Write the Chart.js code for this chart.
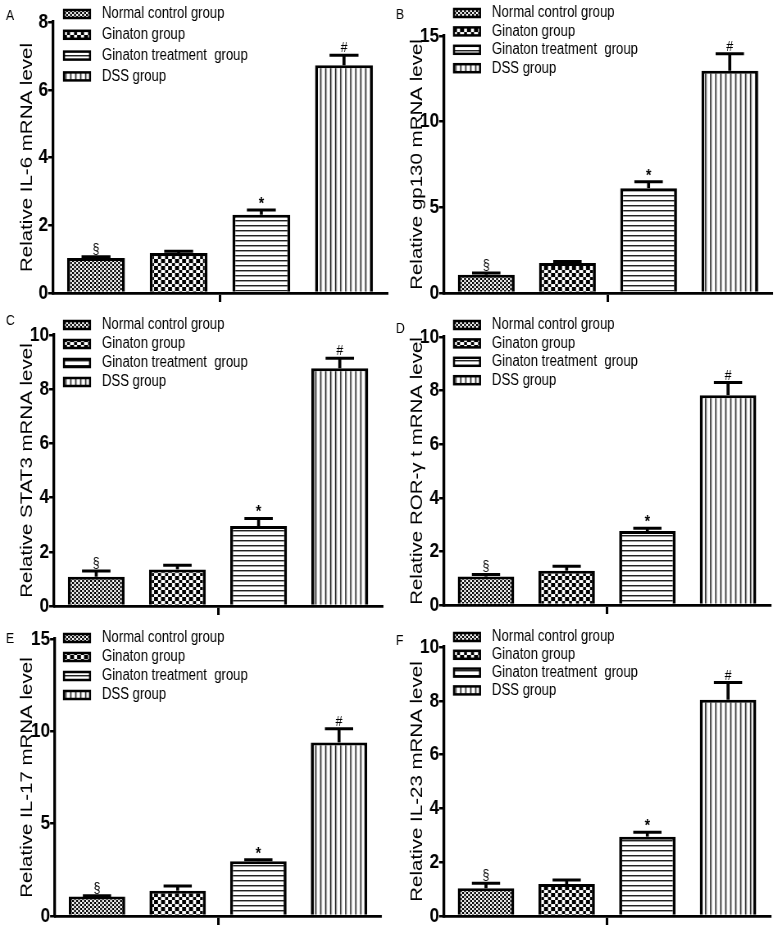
<!DOCTYPE html>
<html>
<head>
<meta charset="utf-8">
<script src="https://cdn.jsdelivr.net/npm/chart.js@4.4.1/dist/chart.umd.min.js"></script>
<style>
  html, body { margin: 0; background: #fff; overflow: hidden; }
  #wrap { position: relative; width: 778px; height: 933px; background: #fff; overflow: hidden; }
  #wrap canvas { position: absolute; transform-origin: 0 0; }
</style>
</head>
<body>
<div id="wrap">
  <canvas id="pA"></canvas>
  <canvas id="pB"></canvas>
  <canvas id="pC"></canvas>
  <canvas id="pD"></canvas>
  <canvas id="pE"></canvas>
  <canvas id="pF"></canvas>
</div>
<script>
const groups = ['Normal control group', 'Ginaton group', 'Ginaton treatment  group', 'DSS group'];
const marks = ['§', '', '*', '#'];

// mean values and upper error
const il6 = [1.03, 1.18, 2.31, 6.72];
const il6Err = [0.04, 0.05, 0.14, 0.30];
const gp130 = [1.07, 1.75, 6.12, 12.97];
const gp130Err = [0.10, 0.09, 0.38, 1.0];
const stat3 = [1.08, 1.35, 2.95, 8.77];
const stat3Err = [0.21, 0.15, 0.28, 0.37];
const rorgt = [1.06, 1.28, 2.76, 7.83];
const rorgtErr = [0.08, 0.17, 0.10, 0.47];
const il17 = [1.05, 1.37, 2.97, 9.40];
const il17Err = [0.04, 0.26, 0.07, 0.74];
const il23 = [1.03, 1.19, 2.95, 8.04];
const il23Err = [0.19, 0.15, 0.16, 0.64];

const FONT = "'Liberation Sans', Arial, sans-serif";
const SQUEEZE = 0.82; // the figure is narrower than it is tall

const panels = [
  { id: 'pA', letter: 'A', title: 'Relative IL-6 mRNA level', values: il6, errors: il6Err, max: 8, step: 2,
    x: 0, y: 0, w: 390, h: 310, left: 53, top: 22, right: 387, bottom: 293, legY: 14, legGap: 20.8, letterY: 20 },
  { id: 'pB', letter: 'B', title: 'Relative gp130 mRNA level', values: gp130, errors: gp130Err, max: 15, step: 5,
    x: 390, y: 0, w: 388, h: 310, left: 54, top: 36, right: 382, bottom: 293, legY: 13, legGap: 18.4, letterY: 19 },
  { id: 'pC', letter: 'C', title: 'Relative STAT3 mRNA level', values: stat3, errors: stat3Err, max: 10, step: 2,
    x: 0, y: 310, w: 390, h: 310, left: 54, top: 25, right: 382, bottom: 296, legY: 15, legGap: 19, letterY: 15 },
  { id: 'pD', letter: 'D', title: 'Relative ROR-γ t mRNA level', values: rorgt, errors: rorgtErr, max: 10, step: 2,
    x: 390, y: 310, w: 388, h: 310, left: 54, top: 27, right: 380, bottom: 295, legY: 15, legGap: 18.4, letterY: 23 },
  { id: 'pE', letter: 'E', title: 'Relative IL-17 mRNA level', values: il17, errors: il17Err, max: 15, step: 5,
    x: 0, y: 620, w: 390, h: 313, left: 55, top: 19, right: 381, bottom: 296, legY: 18, legGap: 19, letterY: 23 },
  { id: 'pF', letter: 'F', title: 'Relative IL-23 mRNA level', values: il23, errors: il23Err, max: 10, step: 2,
    x: 390, y: 620, w: 388, h: 313, left: 54, top: 27, right: 380, bottom: 296, legY: 17, legGap: 17.8, letterY: 25 }
];

function makePattern(ctx, kind, k) {
  const c = document.createElement('canvas');
  const g = c.getContext('2d');
  if (kind === 'fine') {
    c.width = 4; c.height = 4;
    g.fillStyle = '#fff'; g.fillRect(0, 0, 4, 4);
    g.fillStyle = '#000'; g.fillRect(0, 0, 2, 2); g.fillRect(2, 2, 2, 2);
  } else if (kind === 'check') {
    c.width = 7; c.height = 7;
    g.fillStyle = '#fff'; g.fillRect(0, 0, 7, 7);
    g.fillStyle = '#000'; g.fillRect(0, 0, 4, 4); g.fillRect(4, 4, 3, 3);
  } else if (kind === 'hlines') {
    c.width = 5; c.height = 5;
    g.fillStyle = '#fff'; g.fillRect(0, 0, 5, 5);
    g.fillStyle = '#222'; g.fillRect(0, 0, 5, 1.4);
  } else {
    c.width = 5; c.height = 5;
    g.fillStyle = '#fff'; g.fillRect(0, 0, 5, 5);
    g.fillStyle = '#222'; g.fillRect(0, 0, 1.4, 5);
  }
  const pat = ctx.createPattern(c, 'repeat');
  pat.setTransform(new DOMMatrix([1 / k, 0, 0, 1, 0, 0]));
  return pat;
}

const fills = ['fine', 'check', 'hlines', 'vlines'];

const errorBars = {
  id: 'errorBars',
  afterDatasetsDraw(chart, args, opts) {
    const ctx = chart.ctx;
    const y = chart.scales.y;
    const k = opts.k;
    ctx.save();
    ctx.strokeStyle = '#000';
    ctx.fillStyle = '#000';
    ctx.textAlign = 'center';
    ctx.textBaseline = 'alphabetic';
    chart.data.datasets.forEach((ds, i) => {
      const bar = chart.getDatasetMeta(i).data[0];
      const top = y.getPixelForValue(ds.data[0] + ds.err);
      const half = bar.width / 4;
      ctx.lineWidth = 3 / k;
      ctx.beginPath();
      ctx.moveTo(bar.x, bar.y);
      ctx.lineTo(bar.x, top);
      ctx.stroke();
      ctx.lineWidth = 3;
      ctx.beginPath();
      ctx.moveTo(bar.x - half, top);
      ctx.lineTo(bar.x + half, top);
      ctx.stroke();
      if (ds.mark) {
        ctx.font = ds.mark === '*' ? 'bold 17px ' + FONT : '15px ' + FONT;
        ctx.fillText(ds.mark, bar.x, ds.mark === '*' ? top - 1 : top - 3);
      }
    });
    ctx.restore();
  }
};

const legendBox = {
  id: 'legendBox',
  afterDraw(chart, args, opts) {
    const ctx = chart.ctx;
    const k = opts.k;
    ctx.save();
    chart.data.datasets.forEach((ds, i) => {
      const cy = opts.y + i * opts.gap;
      ctx.fillStyle = ds.backgroundColor;
      ctx.fillRect(64 / k, cy - 4, 26 / k, 8);
      ctx.strokeStyle = '#000';
      ctx.lineWidth = 2.5;
      ctx.strokeRect(64 / k, cy - 4, 26 / k, 8);
      ctx.fillStyle = '#000';
      ctx.font = '16px ' + FONT;
      ctx.textAlign = 'left';
      ctx.textBaseline = 'middle';
      ctx.fillText(ds.label, 102 / k, cy);
    });
    ctx.font = '15px ' + FONT;
    ctx.textBaseline = 'alphabetic';
    ctx.fillText(opts.letter, 6 / k, opts.letterY);
    ctx.restore();
  }
};

const charts = panels.map(p => {
  const canvas = document.getElementById(p.id);
  const cw = Math.round(p.w / SQUEEZE);
  const k = p.w / cw;
  canvas.width = cw;
  canvas.height = p.h;
  canvas.style.left = p.x + 'px';
  canvas.style.top = p.y + 'px';
  canvas.style.transform = 'scaleX(' + k + ')';
  const ctx = canvas.getContext('2d');
  const padLeft = 17;
  return new Chart(canvas, {
    type: 'bar',
    data: {
      labels: [''],
      datasets: groups.map((g, i) => ({
        label: g,
        data: [p.values[i]],
        err: p.errors[i],
        mark: marks[i],
        backgroundColor: makePattern(ctx, fills[i], k),
        borderColor: '#000',
        borderWidth: { top: 3, left: 3 / k, right: 3 / k, bottom: 0 },
        categoryPercentage: 0.99,
        barPercentage: 0.7
      }))
    },
    options: {
      responsive: false,
      animation: false,
      devicePixelRatio: 1,
      layout: { padding: { left: padLeft, top: p.top, right: (p.w - p.right) / k, bottom: p.h - p.bottom - 12 } },
      plugins: {
        legend: { display: false },
        tooltip: { enabled: false },
        legendBox: { y: p.legY, gap: p.legGap, letter: p.letter, letterY: p.letterY, k: k },
        errorBars: { k: k }
      },
      scales: {
        x: {
          grid: { offset: false, drawOnChartArea: false, drawTicks: true, tickLength: 9, color: '#000', lineWidth: 2.5 / k },
          border: { display: true, color: '#000', width: 2.7 },
          ticks: { display: false },
          afterFit: s => { s.height = 12; }
        },
        y: {
          min: 0,
          max: p.max,
          ticks: { stepSize: p.step, color: '#000', padding: 0, font: { family: FONT, size: 21, weight: 'bold' } },
          grid: { drawOnChartArea: false, tickLength: 6, color: '#000', lineWidth: 2.5 },
          border: { display: true, color: '#000', width: 2.7 / k },
          title: { display: true, text: p.title, color: '#000', padding: { top: 4, bottom: 0 }, font: { family: FONT, size: 20.5 } },
          afterFit: s => { s.width = p.left / k - padLeft; }
        }
      }
    },
    plugins: [errorBars, legendBox]
  });
});
</script>
</body>
</html>
